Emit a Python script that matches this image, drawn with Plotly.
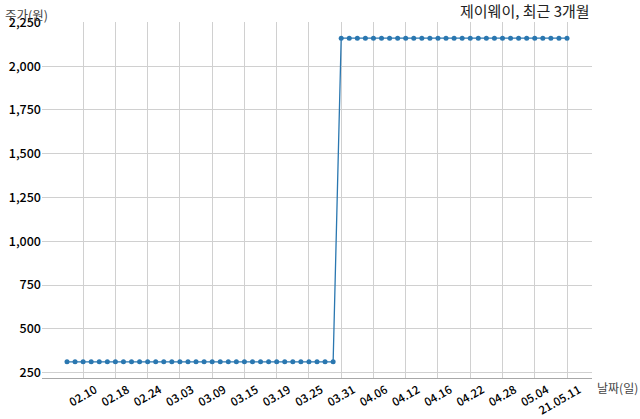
import plotly.graph_objects as go

# Trading days (2021-02-08 ~ 2021-05-11)
dates = [
    "02.08", "02.09", "02.10", "02.15", "02.16", "02.17", "02.18", "02.19",
    "02.22", "02.23", "02.24", "02.25", "02.26",
    "03.02", "03.03", "03.04", "03.05", "03.08", "03.09", "03.10", "03.11",
    "03.12", "03.15", "03.16", "03.17", "03.18", "03.19", "03.22", "03.23",
    "03.24", "03.25", "03.26", "03.29", "03.30", "03.31",
    "04.01", "04.02", "04.05", "04.06", "04.07", "04.08", "04.09", "04.12",
    "04.13", "04.14", "04.15", "04.16", "04.19", "04.20", "04.21", "04.22",
    "04.23", "04.26", "04.27", "04.28", "04.29", "04.30",
    "05.03", "05.04", "05.06", "05.07", "05.10", "05.11",
]
prices = [
    312, 312, 312, 312, 312, 312, 312, 312, 312, 312, 312, 312, 312,
    312, 312, 312, 312, 312, 312, 312, 312, 312, 312, 312, 312, 312,
    312, 312, 312, 312, 312, 312, 312, 312,
    2160, 2160, 2160, 2160, 2160, 2160, 2160, 2160, 2160, 2160, 2160,
    2160, 2160, 2160, 2160, 2160, 2160, 2160, 2160, 2160, 2160, 2160,
    2160, 2160, 2160, 2160, 2160, 2160, 2160,
]
tick_dates = ["02.10", "02.18", "02.24", "03.03", "03.09", "03.15", "03.19", "03.25",
              "03.31", "04.06", "04.12", "04.16", "04.22", "04.28", "05.04", "05.11"]
tick_labels = ["02.10", "02.18", "02.24", "03.03", "03.09", "03.15", "03.19", "03.25",
               "03.31", "04.06", "04.12", "04.16", "04.22", "04.28", "05.04", "21.05.11"]
y_ticks = [250, 500, 750, 1000, 1250, 1500, 1750, 2000, 2250]

FONT = "Noto Sans CJK KR"
color = "#2a77b0"

fig = go.Figure()
fig.add_trace(go.Scatter(
    x=dates,
    y=prices,
    mode="lines+markers",
    line=dict(color=color, width=1.3),
    marker=dict(color=color, size=5),
    hoverinfo="skip",
))

# matplotlib-like 5% margins
n = len(dates) - 1
pad_x = n * 0.05
lo, hi = min(prices), max(prices)
pad_y = (hi - lo) * 0.05

fig.update_layout(
    width=640,
    height=419,
    margin=dict(l=42, r=48, t=22, b=41),
    paper_bgcolor="white",
    plot_bgcolor="white",
    showlegend=False,
    font=dict(family=FONT, size=12, color="#111111"),
    xaxis=dict(
        type="category",
        range=[-pad_x, n + pad_x],
        tickmode="array",
        tickvals=tick_dates,
        ticktext=tick_labels,
        tickangle=-30,
        ticklabelshift=12,
        ticklabelstandoff=0,
        automargin=False,
        showgrid=True,
        gridcolor="#d0d0d0",
        gridwidth=1,
        showline=True,
        linecolor="#a8a8a8",
        linewidth=1,
        ticks="",
        zeroline=False,
        tickfont=dict(size=11.5, color="#000000", weight=500),
    ),
    yaxis=dict(
        range=[lo - pad_y, hi + pad_y],
        tickmode="array",
        tickvals=y_ticks,
        tickformat=",",
        automargin=False,
        showgrid=True,
        gridcolor="#d0d0d0",
        gridwidth=1,
        showline=False,
        ticks="",
        zeroline=False,
        tickfont=dict(size=12.5, color="#000000", weight=500),
    ),
    annotations=[
        dict(text="제이웨이, 최근 3개월", xref="paper", yref="paper", x=1, y=1,
             xanchor="right", yanchor="bottom", yshift=-1, showarrow=False,
             font=dict(size=15, color="#222222")),
        dict(text="주가(원)", xref="paper", yref="paper", x=0, y=1,
             xanchor="right", yanchor="middle", xshift=8, yshift=8, showarrow=False,
             font=dict(size=12.5, color="#444444")),
        dict(text="날짜(일)", xref="paper", yref="paper", x=1, y=0,
             xanchor="left", yanchor="middle", xshift=3, yshift=-9, showarrow=False,
             font=dict(size=12, color="#444444")),
    ],
)

# drop the browser's default body margin so the figure sits at the window origin
fig.write_html("out.html", config={"displayModeBar": False},
               post_script="document.body.style.margin = '0';")
